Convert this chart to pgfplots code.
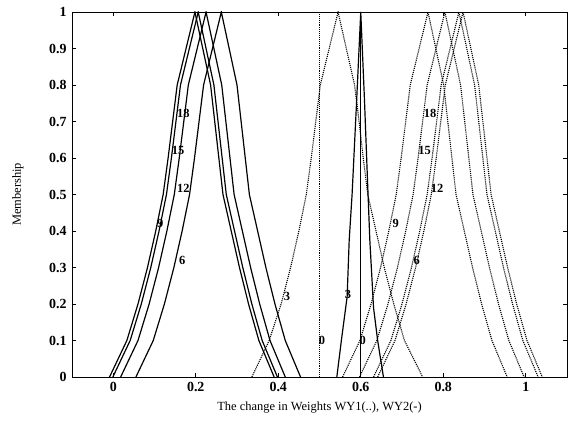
\documentclass[border=0pt]{standalone}
\usepackage{fontspec}
\setmainfont{Liberation Serif}
\usepackage{pgfplots}
\pgfplotsset{compat=1.18}

\begin{document}
\begin{tikzpicture}
\begin{axis}[
	scale only axis,
	width=495bp, height=365bp,
	xmin=-0.1, xmax=1.1,
	ymin=0, ymax=1,
	xtick={0,0.2,0.4,0.6,0.8,1},
	xticklabels={0,0.2,0.4,0.6,0.8,1},
	ytick={0,0.1,...,1},
	yticklabels={0,0.1,0.2,0.3,0.4,0.5,0.6,0.7,0.8,0.9,1},
	tick align=inside,
	major tick length=4bp,
	tick style={black, line width=0.6pt},
	axis line style={line width=0.8pt},
	ticklabel style={font=\fontsize{14}{16}\selectfont\bfseries},
	xticklabel style={yshift=-2bp},
	yticklabel style={xshift=-2bp},
	xlabel={The change in Weights WY1(..), WY2(-)},
	ylabel={Membership},
	label style={font=\fontsize{12.5}{14}\selectfont},
	xlabel style={at={(axis description cs:0.5,0)}, anchor=center, yshift=-31bp},
	ylabel style={at={(axis description cs:0,0.5)}, anchor=center, yshift=54bp},
	clip=true,
]

% WY2 (solid)
\addplot[black, line width=1.2pt] coordinates {
(-0.009,0) (0.033,0.1) (0.060,0.2) (0.083,0.3) (0.103,0.4) (0.121,0.5) (0.133,0.6) (0.144,0.7) (0.155,0.8) (0.198,1)
(0.236,0.8) (0.246,0.7) (0.256,0.6) (0.266,0.5) (0.286,0.4) (0.306,0.3) (0.328,0.2) (0.353,0.1) (0.390,0)};
\addplot[black, line width=1.2pt] coordinates {
(-0.001,0) (0.041,0.1) (0.068,0.2) (0.091,0.3) (0.111,0.4) (0.129,0.5) (0.141,0.6) (0.152,0.7) (0.163,0.8) (0.206,1)
(0.244,0.8) (0.254,0.7) (0.264,0.6) (0.274,0.5) (0.294,0.4) (0.314,0.3) (0.336,0.2) (0.361,0.1) (0.398,0)};
\addplot[black, line width=1.2pt] coordinates {
(0.018,0) (0.060,0.1) (0.087,0.2) (0.110,0.3) (0.130,0.4) (0.148,0.5) (0.160,0.6) (0.171,0.7) (0.182,0.8) (0.225,1)
(0.263,0.8) (0.273,0.7) (0.283,0.6) (0.293,0.5) (0.313,0.4) (0.333,0.3) (0.355,0.2) (0.380,0.1) (0.417,0)};
\addplot[black, line width=1.2pt] coordinates {
(0.055,0) (0.097,0.1) (0.124,0.2) (0.147,0.3) (0.167,0.4) (0.185,0.5) (0.197,0.6) (0.208,0.7) (0.219,0.8) (0.262,1)
(0.300,0.8) (0.310,0.7) (0.320,0.6) (0.330,0.5) (0.350,0.4) (0.370,0.3) (0.392,0.2) (0.417,0.1) (0.454,0)};
\addplot[black, line width=1.2pt] coordinates {
(0.542,0) (0.553,0.1) (0.567,0.22) (0.572,0.375) (0.579,0.5) (0.590,0.756) (0.600,1)
(0.609,0.76) (0.616,0.55) (0.622,0.375) (0.631,0.19) (0.641,0.1) (0.655,0)};
\addplot[black, line width=1.2pt] coordinates {(0.600,0) (0.600,1)};

% WY1 (dotted)
\addplot[black, line width=1.1pt, densely dotted] coordinates {(0.500,0) (0.500,1)};
\addplot[black, line width=1.1pt, densely dotted] coordinates {
(0.336,0) (0.378,0.1) (0.407,0.2) (0.430,0.3) (0.450,0.4) (0.468,0.5) (0.480,0.6) (0.491,0.7) (0.502,0.8) (0.545,1)
(0.585,0.8) (0.596,0.7) (0.606,0.6) (0.617,0.5) (0.637,0.4) (0.657,0.3) (0.680,0.2) (0.706,0.1) (0.750,0)};
\addplot[black, line width=1.1pt, densely dotted] coordinates {
(0.556,0) (0.598,0.1) (0.625,0.2) (0.648,0.3) (0.668,0.4) (0.686,0.5) (0.698,0.6) (0.709,0.7) (0.720,0.8) (0.763,1)
(0.801,0.8) (0.811,0.7) (0.821,0.6) (0.831,0.5) (0.851,0.4) (0.871,0.3) (0.893,0.2) (0.918,0.1) (0.955,0)};
\addplot[black, line width=1.1pt, densely dotted] coordinates {
(0.597,0) (0.639,0.1) (0.666,0.2) (0.689,0.3) (0.709,0.4) (0.727,0.5) (0.739,0.6) (0.750,0.7) (0.761,0.8) (0.804,1)
(0.842,0.8) (0.852,0.7) (0.862,0.6) (0.872,0.5) (0.892,0.4) (0.912,0.3) (0.934,0.2) (0.959,0.1) (0.996,0)};
\addplot[black, line width=1.1pt, densely dotted] coordinates {
(0.631,0) (0.673,0.1) (0.700,0.2) (0.723,0.3) (0.743,0.4) (0.761,0.5) (0.773,0.6) (0.784,0.7) (0.795,0.8) (0.838,1)
(0.876,0.8) (0.886,0.7) (0.896,0.6) (0.906,0.5) (0.926,0.4) (0.946,0.3) (0.968,0.2) (0.993,0.1) (1.030,0)};
\addplot[black, line width=1.1pt, densely dotted] coordinates {
(0.641,0) (0.683,0.1) (0.710,0.2) (0.733,0.3) (0.753,0.4) (0.771,0.5) (0.783,0.6) (0.794,0.7) (0.805,0.8) (0.848,1)
(0.886,0.8) (0.896,0.7) (0.906,0.6) (0.916,0.5) (0.936,0.4) (0.956,0.3) (0.978,0.2) (1.003,0.1) (1.040,0)};

% curve labels
\begin{scope}[every node/.style={font=\fontsize{12.5}{14}\selectfont\bfseries, inner sep=0pt}]
\node at (axis cs:0.170,0.723) {18};
\node at (axis cs:0.157,0.622) {15};
\node at (axis cs:0.170,0.518) {12};
\node at (axis cs:0.114,0.422) {9};
\node at (axis cs:0.167,0.320) {6};
\node at (axis cs:0.569,0.225) {3};
\node at (axis cs:0.605,0.099) {0};
\node at (axis cs:0.506,0.099) {0};
\node at (axis cs:0.421,0.222) {3};
\node at (axis cs:0.768,0.723) {18};
\node at (axis cs:0.755,0.622) {15};
\node at (axis cs:0.785,0.518) {12};
\node at (axis cs:0.685,0.422) {9};
\node at (axis cs:0.736,0.318) {6};
\end{scope}
\end{axis}
\path (current axis.south west) ++(-72bp,-53bp);
\path (current axis.north east) ++(4bp,12bp);
\end{tikzpicture}
\end{document}
